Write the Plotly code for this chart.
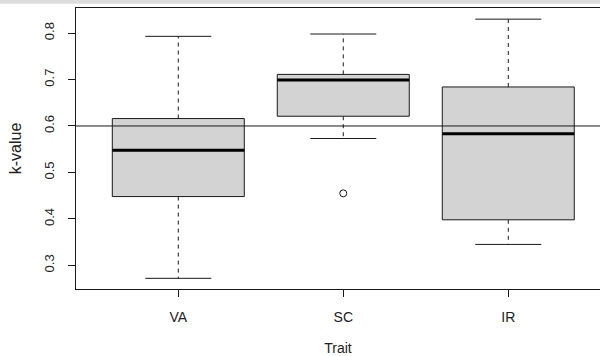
import plotly.graph_objects as go

# ---- data ----
traits = ["VA", "SC", "IR"]
whisker_low = [0.272, 0.573, 0.345]
q1_vals = [0.448, 0.621, 0.398]
median_vals = [0.548, 0.699, 0.583]
q3_vals = [0.616, 0.711, 0.684]
whisker_high = [0.793, 0.798, 0.830]
outlier_trait = ["SC"]
outlier_vals = [0.455]
ref_line = 0.6
y_ticks = [0.3, 0.4, 0.5, 0.6, 0.7, 0.8]
y_tick_labels = ["0.3", "0.4", "0.5", "0.6", "0.7", "0.8"]

# ---- style constants ----
HALF_BOX = 0.4
HALF_STAPLE = 0.2
FONT = "Arial, Liberation Sans, sans-serif"
LINE = "#1a1a1a"

fig = go.Figure()
pos = {t: i + 1 for i, t in enumerate(traits)}

for t, lo, q1, md, q3, hi in zip(traits, whisker_low, q1_vals, median_vals, q3_vals, whisker_high):
    x = pos[t]
    # whiskers (dashed)
    fig.add_trace(go.Scatter(
        x=[x, x, None, x, x], y=[q1, lo, None, q3, hi], mode="lines",
        line=dict(color=LINE, width=1, dash="4px,4px"), hoverinfo="skip", showlegend=False))
    # staples
    fig.add_trace(go.Scatter(
        x=[x - HALF_STAPLE, x + HALF_STAPLE, None, x - HALF_STAPLE, x + HALF_STAPLE],
        y=[lo, lo, None, hi, hi], mode="lines",
        line=dict(color=LINE, width=1), hoverinfo="skip", showlegend=False))
    # box
    fig.add_trace(go.Scatter(
        x=[x - HALF_BOX, x + HALF_BOX, x + HALF_BOX, x - HALF_BOX, x - HALF_BOX],
        y=[q1, q1, q3, q3, q1], mode="lines", fill="toself", fillcolor="#d3d3d3",
        line=dict(color=LINE, width=1), hoverinfo="skip", showlegend=False))
    # median
    fig.add_trace(go.Scatter(
        x=[x - HALF_BOX, x + HALF_BOX], y=[md, md], mode="lines",
        line=dict(color="#000000", width=3), hoverinfo="skip", showlegend=False))

fig.add_trace(go.Scatter(
    x=[pos[t] for t in outlier_trait], y=outlier_vals, mode="markers",
    marker=dict(symbol="circle-open", size=7, color=LINE, line=dict(width=1)),
    hoverinfo="skip", showlegend=False))

# reference line
fig.add_shape(type="line", xref="paper", x0=0, x1=1, yref="y", y0=ref_line, y1=ref_line,
              line=dict(color=LINE, width=1), layer="above")
# thin gray strip at the very top of the image
fig.add_shape(type="rect", xref="paper", x0=-0.2, x1=1.01, yref="paper",
              y0=1 + 4.3 / 281, y1=1 + 9 / 281, fillcolor="#dcdcdc", line=dict(width=0), layer="above")

fig.update_layout(
    width=600, height=356,
    margin=dict(l=76, r=0, t=8, b=67, autoexpand=False),
    paper_bgcolor="white", plot_bgcolor="white",
    font=dict(family=FONT, size=13, color="#222"),
    xaxis=dict(
        range=[0.38, 3.556], tickmode="array", tickvals=[pos[t] for t in traits], ticktext=traits,
        showgrid=False, zeroline=False, showline=True, mirror=True, linecolor=LINE, linewidth=1,
        ticks="outside", ticklen=7, tickcolor=LINE, tickfont=dict(size=14), automargin=False,
        ticklabelstandoff=8,
        title=dict(text="Trait", font=dict(size=14), standoff=22)),
    yaxis=dict(
        range=[0.249, 0.854], tickmode="array", tickvals=y_ticks, ticktext=y_tick_labels,
        tickangle=-90, showgrid=False, zeroline=False, showline=True, linecolor=LINE, linewidth=1,
        ticks="outside", ticklen=7, tickcolor=LINE, tickfont=dict(size=13), automargin=False,
        ticklabelstandoff=9,
        title=dict(text="k-value", font=dict(size=16), standoff=16)),
)

fig.write_html("out.html", config={"displayModeBar": False},
               post_script="document.body.style.margin='0';document.body.style.overflow='hidden';")
